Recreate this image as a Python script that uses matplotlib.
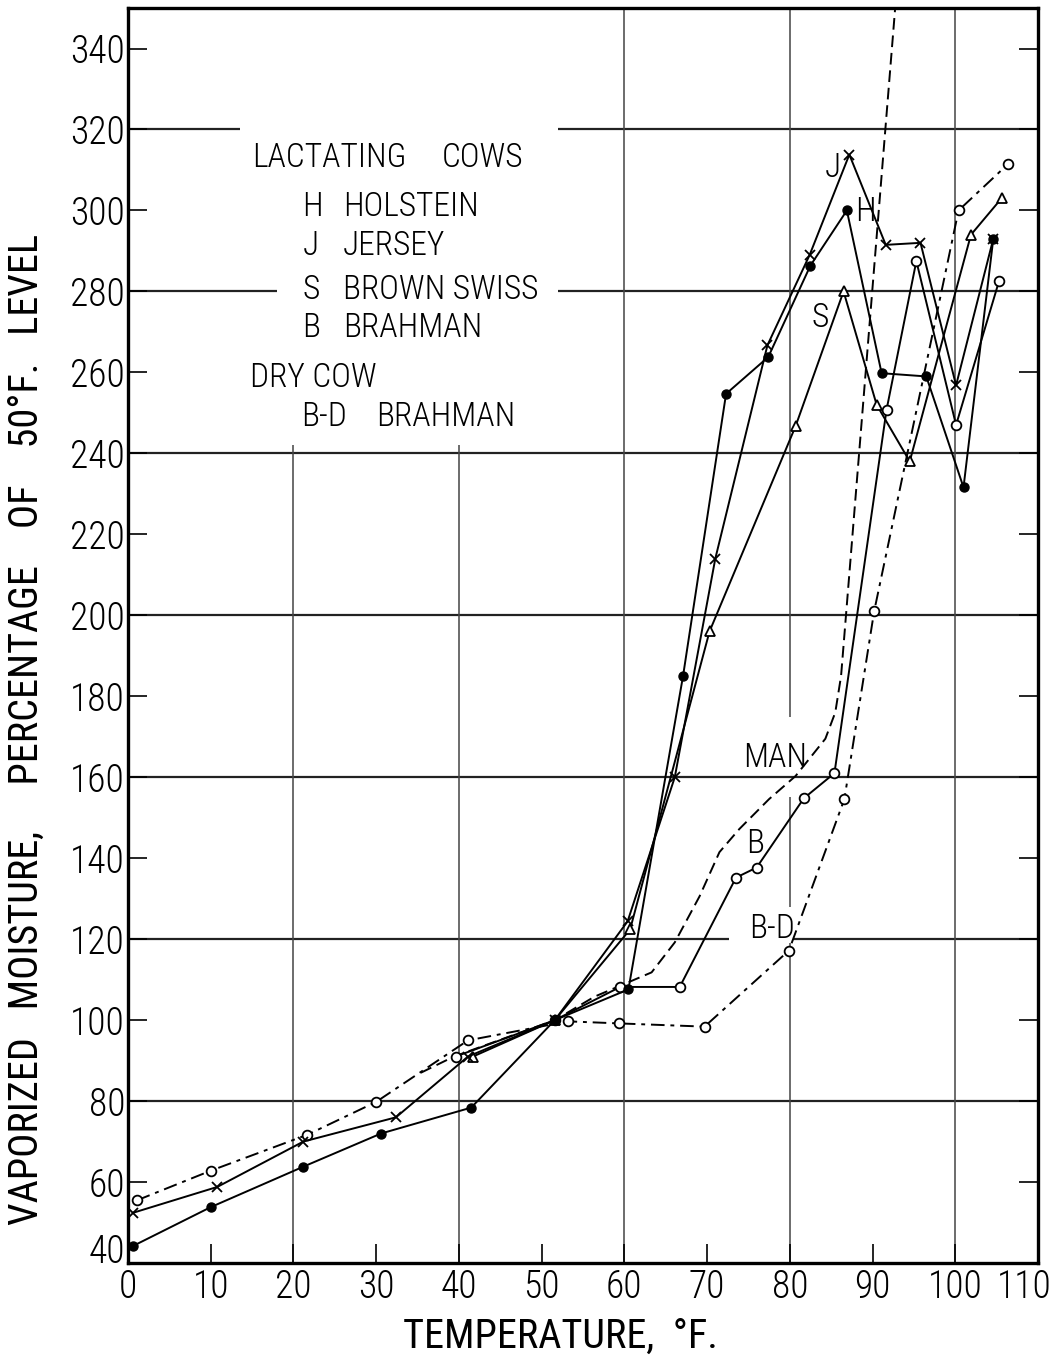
import numpy as np
import matplotlib
matplotlib.use("Agg")
import matplotlib.pyplot as plt
from matplotlib.transforms import ScaledTranslation

plt.rcParams['font.family'] = ['Roboto Condensed', 'Roboto', 'DejaVu Sans']
plt.rcParams['font.weight'] = 'light'

# Holstein (H) - filled circles, solid
h_temp = [0.6, 10.0, 21.2, 30.6, 41.5, 51.6, 60.5, 67.1, 72.3, 77.4, 82.5, 86.9, 91.1, 96.5, 101.0, 104.6]
h_val = [44.2, 53.8, 63.8, 72.0, 78.4, 100.0, 107.6, 185.0, 254.7, 263.8, 286.4, 300.0, 259.8, 259.0, 231.6, 293.0]

# Jersey (J) - x, solid
j_temp = [0.6, 10.8, 21.2, 32.4, 41.1, 51.6, 60.4, 66.1, 71.0, 77.3, 82.4, 87.2, 91.6, 95.8, 100.1, 104.6]
j_val = [52.4, 58.8, 70.0, 76.0, 91.0, 100.0, 124.4, 160.0, 214.0, 266.7, 289.0, 313.8, 291.5, 292.0, 256.8, 293.0]

# Brown Swiss (S) - open triangles, solid
s_temp = [41.7, 51.6, 60.7, 70.3, 80.7, 86.5, 90.5, 94.5, 101.9, 105.6]
s_val = [91.0, 100.0, 122.4, 196.0, 246.7, 280.0, 252.0, 238.0, 294.0, 303.0]

# Brahman (B) - open circles, solid
b_temp = [39.6, 51.6, 59.5, 66.7, 73.5, 76.0, 81.7, 85.4, 91.7, 95.3, 100.1, 105.3]
b_val = [91.0, 100.0, 108.2, 108.2, 135.2, 137.7, 154.8, 161.0, 250.8, 287.5, 247.0, 282.6]

# Dry Brahman (B-D) - open circles, dash-dot
bd_temp = [1.1, 10.0, 21.7, 30.0, 41.1, 53.2, 59.3, 69.7, 79.9, 86.6, 90.2, 100.4, 106.4]
bd_val = [55.5, 62.8, 71.7, 79.8, 95.0, 99.7, 99.2, 98.4, 117.2, 154.6, 201.0, 300.0, 311.5]

# Man - dashed, no markers
man_temp = [35.4, 39.4, 51.6, 56.4, 63.3, 66.1, 69.1, 71.5, 73.9, 77.5, 80.7, 84.3, 85.5, 86.2, 92.7, 93.1]
man_val = [87.0, 91.0, 100.0, 105.8, 111.8, 119.2, 130.6, 141.5, 147.2, 154.6, 160.3, 169.5, 176.0, 185.0, 349.0, 360.0]

y_ticks = list(range(40, 341, 20))
x_ticks = list(range(0, 111, 10))

fig = plt.figure(figsize=(10.57, 13.59), dpi=100)
ax = fig.add_axes([0.121, 0.0706, 0.861, 0.9235])
ax.set_xlim(0, 110)
ax.set_ylim(40, 350)

# grid, drawn by hand because parts are left blank in the original
gk = dict(color='#222222', lw=1.6, zorder=1)
vk = dict(color='#444444', lw=1.1, zorder=1)
for v in [80, 120, 160, 200, 240]:
    if v == 120:
        ax.hlines(v, 0, 72.6, **gk)
        ax.hlines(v, 80.4, 110, **gk)
    else:
        ax.hlines(v, 0, 110, **gk)
ax.hlines(280, 0, 18.0, **gk)
ax.hlines(280, 52.0, 110, **gk)
ax.hlines(320, 0, 13.5, **gk)
ax.hlines(320, 52.0, 110, **gk)
for t in [20, 40]:
    ax.vlines(t, 40, 242, **vk)
ax.vlines(60, 40, 350, **vk)
ax.vlines(100, 40, 350, **vk)
ax.vlines(80, 40, 119, **vk)
ax.vlines(80, 128, 155, **vk)
ax.vlines(80, 175, 350, **vk)

lw = 1.4
ax.plot(man_temp, man_val, color='black', lw=lw, dashes=[6, 3], zorder=3)
ax.plot(bd_temp, bd_val, color='black', lw=lw, dashes=[7, 3, 2, 3], zorder=3,
        marker='o', ms=7, mfc='white', mec='black', mew=1.3)
ax.plot(b_temp, b_val, color='black', lw=lw, zorder=3,
        marker='o', ms=7, mfc='white', mec='black', mew=1.3)
ax.plot(s_temp, s_val, color='black', lw=lw, zorder=3,
        marker='^', ms=7, mfc='white', mec='black', mew=1.3)
ax.plot(j_temp, j_val, color='black', lw=lw, zorder=4,
        marker='x', ms=6.5, mec='black', mew=1.3)
ax.plot(h_temp, h_val, color='black', lw=lw, zorder=4,
        marker='o', ms=6.5, mfc='black', mec='black')

# curve labels
fs = 24
ax.text(85.2, 310.5, 'J', fontsize=fs, ha='center', va='center', zorder=5)
ax.text(87.9, 299.5, 'H', fontsize=fs, ha='left', va='center', zorder=5)
ax.text(83.7, 273.4, 'S', fontsize=fs, ha='center', va='center', zorder=5)
ax.text(78.2, 164.8, 'MAN', fontsize=fs, ha='center', va='center', zorder=5)
ax.text(75.8, 143.5, 'B', fontsize=fs, ha='center', va='center', zorder=5)
ax.text(77.8, 122.4, 'B-D', fontsize=fs, ha='center', va='center', zorder=5)

# key
ax.text(15.0, 313.0, 'LACTATING', fontsize=fs, va='center')
ax.text(37.9, 313.0, 'COWS', fontsize=fs, va='center')
key_rows = [('H', 'HOLSTEIN', 300.9), ('J', 'JERSEY', 291.2),
            ('S', 'BROWN SWISS', 280.3), ('B', 'BRAHMAN', 271.0)]
for letter, name, yv in key_rows:
    ax.text(21.1, yv, letter, fontsize=fs, va='center')
    ax.text(26.0, yv, name, fontsize=fs, va='center')
ax.text(14.8, 258.6, 'DRY COW', fontsize=fs, va='center')
ax.text(20.9, 249.0, 'B-D', fontsize=fs, va='center')
ax.text(30.0, 249.0, 'BRAHMAN', fontsize=fs, va='center')

for s in ax.spines.values():
    s.set_linewidth(2.4)
    s.set_zorder(6)

ax.set_xticks(x_ticks)
ax.set_yticks(y_ticks)
ax.tick_params(axis='both', direction='in', length=14, width=1.2, labelsize=27)
ax.tick_params(axis='x', pad=4)
ax.tick_params(axis='y', right=True, labelright=False, pad=2)
xl = ax.get_xticklabels()
xl[-1].set_transform(xl[-1].get_transform() + ScaledTranslation(-10 / 72, 0, fig.dpi_scale_trans))
yl = ax.get_yticklabels()
yl[0].set_va('baseline')

ax.set_xlabel('TEMPERATURE,  °F.', fontsize=29)
ax.set_ylabel('VAPORIZED   MOISTURE,     PERCENTAGE    OF    50°F.   LEVEL', fontsize=29)
ax.xaxis.set_label_coords(0.475, -0.043)
ax.yaxis.set_label_coords(-0.09, 0.425)

fig.savefig('out.png', dpi=100, facecolor='white')
